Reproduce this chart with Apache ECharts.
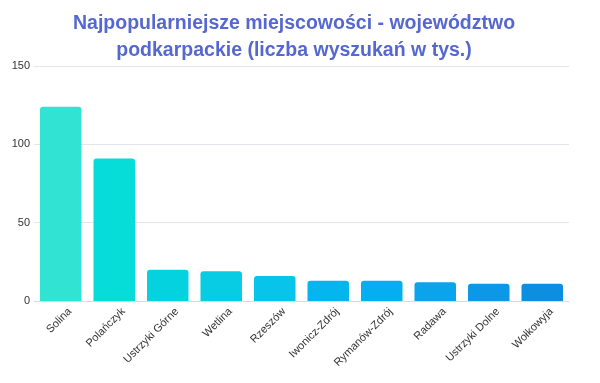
<!DOCTYPE html>
<html>
<head>
<meta charset="utf-8">
<script src="https://cdn.jsdelivr.net/npm/echarts@6/dist/echarts.min.js"></script>
<style>html,body{margin:0;padding:0;background:#fff}#c{width:600px;height:383px}</style>
</head>
<body>
<div id="c"></div>
<script>
const titleText = 'Najpopularniejsze miejscowości - województwo\npodkarpackie (liczba wyszukań w tys.)';
const categories = ['Solina','Polańczyk','Ustrzyki Górne','Wetlina','Rzeszów','Iwonicz-Zdrój','Rymanów-Zdrój','Radawa','Ustrzyki Dolne','Wołkowyja'];
const values = [124, 91, 20, 19, 16, 13, 13, 12, 11, 11];
const barColors = ['#30e3d3','#06dcd8','#04d2de','#08cce4','#08c4ea','#05b6ee','#04aef0','#0aa4ec','#0c98e6','#0c8fe1'];
const yTicks = [0, 50, 100, 150];

const chart = echarts.init(document.getElementById('c'), null, {renderer: 'canvas'});
chart.setOption({
  animation: false,
  backgroundColor: '#fff',
  title: {
    text: titleText,
    left: 289, top: 5, textAlign: 'center',
    textStyle: {fontFamily: 'Liberation Sans', fontWeight: 'bold', fontSize: 19.5, color: '#5567d0', lineHeight: 27}
  },
  grid: {left: 34, right: 31, top: 66, bottom: 82},
  xAxis: {
    type: 'category',
    data: categories,
    axisLine: {lineStyle: {color: '#d8dbe6'}},
    axisTick: {show: false},
    axisLabel: {rotate: 45, fontFamily: 'Liberation Sans', fontSize: 11, color: '#333', margin: 18, padding: [0, -13, 0, 0]}
  },
  yAxis: {
    type: 'value',
    min: yTicks[0], max: yTicks[yTicks.length - 1], interval: 50,
    axisLine: {show: false},
    axisTick: {show: false},
    axisLabel: {fontFamily: 'Liberation Sans', fontSize: 11, color: '#333', margin: 4},
    splitLine: {lineStyle: {color: '#e4e4ee'}}
  },
  series: [{
    type: 'bar',
    data: values.map((v, i) => ({value: v, itemStyle: {color: barColors[i]}})),
    barCategoryGap: '22.4%',
    itemStyle: {borderRadius: [3, 3, 0, 0]}
  }]
});
</script>
</body>
</html>
